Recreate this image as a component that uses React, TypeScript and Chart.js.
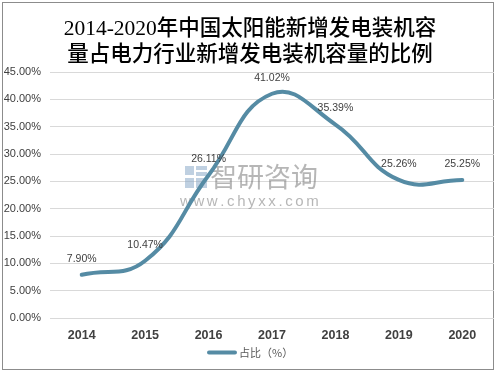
import React, { useEffect, useRef } from "react";
import { Chart, registerables } from "chart.js";

Chart.register(...registerables);

const categories = ["2014", "2015", "2016", "2017", "2018", "2019", "2020"];
const shareValues = [7.9, 10.47, 26.11, 41.02, 35.39, 25.26, 25.25];
const valueLabels = ["7.90%", "10.47%", "26.11%", "41.02%", "35.39%", "25.26%", "25.25%"];
const yTickLabels = ["0.00%", "5.00%", "10.00%", "15.00%", "20.00%", "25.00%", "30.00%", "35.00%", "40.00%", "45.00%"];
const titleLines = ["2014-2020年中国太阳能新增发电装机容", "量占电力行业新增发电装机容量的比例"];
const seriesName = "占比（%）";
const LINE_COLOR = "#558ba4";

const decorPlugin = {
  id: "decor",
  beforeDatasetsDraw(chart: any) {
    const ctx = chart.ctx;
    ctx.save();
    // watermark
    ctx.globalAlpha = 0.55;
    ctx.fillStyle = "#8aa9c8";
    ctx.fillRect(185, 166, 9, 9);
    ctx.fillRect(196, 166, 11, 4);
    ctx.fillRect(196, 172, 11, 4);
    ctx.fillRect(185, 178, 9, 10);
    ctx.fillRect(196, 178, 11, 10);
    ctx.fillStyle = "#7a7a7a";
    ctx.font = "27px 'Noto Sans CJK SC'";
    ctx.textAlign = "left";
    ctx.textBaseline = "middle";
    ctx.fillText("智研咨询", 210, 177);
    ctx.font = "15px 'Liberation Sans'";
    const s = "www.chyxx.com";
    let x = 180;
    for (const ch of s) {
      ctx.fillText(ch, x, 202);
      x += ctx.measureText(ch).width + 2.6;
    }
    ctx.restore();
  },
  afterDraw(chart: any) {
    const ctx = chart.ctx;
    ctx.save();
    // title
    ctx.fillStyle = "#000";
    ctx.textAlign = "center";
    ctx.textBaseline = "middle";
    ctx.font = "500 21.5px 'Liberation Serif', 'Noto Sans CJK SC'";
    ctx.fillText(titleLines[0], 250, 29);
    ctx.fillText(titleLines[1], 250, 55);
    // data labels
    const meta = chart.getDatasetMeta(0);
    ctx.font = "10.5px 'Liberation Sans'";
    ctx.fillStyle = "#404040";
    meta.data.forEach((pt: any, i: number) => {
      ctx.fillText(valueLabels[i], pt.x, pt.y - 16);
    });
    // legend
    ctx.strokeStyle = LINE_COLOR;
    ctx.lineWidth = 4;
    ctx.lineCap = "round";
    ctx.beginPath();
    ctx.moveTo(209, 352.5);
    ctx.lineTo(235, 352.5);
    ctx.stroke();
    ctx.fillStyle = "#595959";
    ctx.textAlign = "left";
    ctx.font = "11px 'Noto Sans CJK SC'";
    ctx.fillText(seriesName, 239, 352.5);
    ctx.restore();
  },
};

export default function App() {
  const ref = useRef<HTMLCanvasElement>(null);
  useEffect(() => {
    document.body.style.margin = "0";
    const chart = new Chart(ref.current as HTMLCanvasElement, {
      type: "line",
      data: {
        labels: categories,
        datasets: [
          {
            label: seriesName,
            data: shareValues,
            borderColor: LINE_COLOR,
            backgroundColor: LINE_COLOR,
            borderWidth: 4,
            pointRadius: 0,
            tension: 0.45,
            borderCapStyle: "round",
            fill: false,
          },
        ],
      },
      options: {
        animation: false,
        responsive: false,
        layout: { padding: { left: 0, right: 6, top: 72, bottom: 28 } },
        plugins: { legend: { display: false }, tooltip: { enabled: false }, title: { display: false } },
        scales: {
          x: {
            offset: true,
            grid: { display: false, drawTicks: false },
            border: { display: false },
            ticks: { color: "#404040", font: { family: "'Liberation Sans'", size: 12.5, weight: "bold" }, padding: 10 },
            afterFit: (s: any) => { s.height = 30; },
          },
          y: {
            min: 0,
            max: 45,
            grid: { color: "#d9d9d9", drawTicks: false },
            border: { display: false },
            ticks: {
              stepSize: 5,
              padding: 9,
              color: "#404040",
              font: { family: "'Liberation Sans'", size: 11 },
              callback: (_v: any, i: number) => yTickLabels[i],
            },
            afterFit: (s: any) => { s.width = 50; },
          },
        },
      },
      plugins: [decorPlugin],
    } as any);
    return () => chart.destroy();
  }, []);
  return (
    <div style={{ position: "fixed", left: 0, top: 0, width: 500, height: 376, background: "#fff" }}>
      <div style={{ position: "absolute", left: 2, top: 2, width: 492, height: 368, border: "1px solid #8c8c8c", boxSizing: "border-box" }} />
      <canvas ref={ref} width={500} height={376} style={{ position: "absolute", left: 0, top: 0 }} />
    </div>
  );
}
